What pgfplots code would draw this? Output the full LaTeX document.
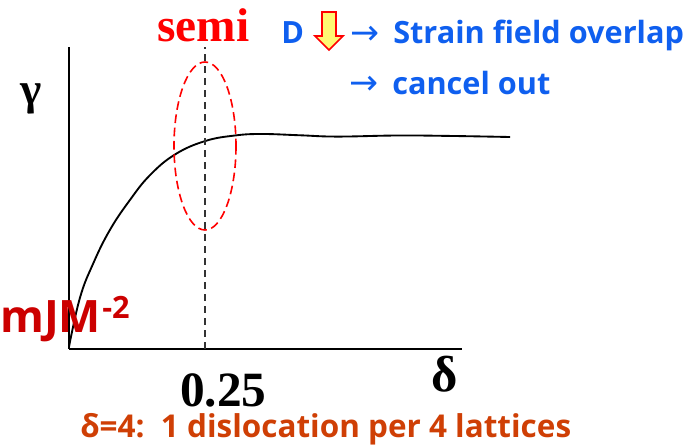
\documentclass[border=0pt]{standalone}
\usepackage{pgfplots}
\pgfplotsset{compat=1.18}
\usepackage{fontspec}
\setmainfont{Open Sans}[BoldFont={Open Sans Bold}]
\newfontfamily\serifb[BoldFont=Liberation Serif Bold]{Liberation Serif}
\newfontfamily\arrowf{DejaVu Sans}
\definecolor{bluetxt}{HTML}{0F5FEF}
\definecolor{redtxt}{HTML}{CC0000}
\definecolor{orangetxt}{HTML}{CF3F05}
\begin{document}
\begin{tikzpicture}
\begin{axis}[
  scale only axis, width=294.75pt, height=226.5pt,
  xmin=0, xmax=0.7224, ymin=0, ymax=1.4047,
  axis lines=left, axis line style={black, line width=2.2pt, -},
  xtick=\empty, ytick=\empty, clip=false,
]
\addplot[black, line width=1.4pt, smooth, tension=0.7] coordinates {
(0,0.01) (0.020,0.237) (0.044,0.395) (0.075,0.553) (0.112,0.693)
(0.149,0.809) (0.195,0.905) (0.25,0.967)
(0.305,0.993) (0.355,1.0) (0.425,0.994) (0.493,0.988)
(0.603,0.993) (0.700,0.991) (0.811,0.986)};
\addplot[black!80, line width=1.1pt, dash pattern=on 5.5pt off 3.5pt] coordinates {(0.25,0) (0.25,1.4047)};
\end{axis}
\begin{scope}[x=.75pt,y=-.75pt,shift={(-69,-349)}]
\path[use as bounding box] (0,0) rectangle (695,445);
\draw[red, line width=1.2pt, dash pattern=on 6.5pt off 3.5pt] (205,146) ellipse [x radius=31, y radius=84];
\draw[red, line width=1.3pt, fill=yellow!55] (322,12) -- (336,12) -- (336,36) -- (343,36) -- (329,50) -- (315,36) -- (322,36) -- cycle;
\node[anchor=base west, inner sep=0, text=red] at (157,42) {\fontsize{35.5}{35.5}\selectfont\serifb\bfseries semi};
\node[anchor=base west, inner sep=0, text=black] at (20,105) {\fontsize{34}{34}\selectfont\serifb\bfseries γ};
\node[anchor=base west, inner sep=0, text=black] at (431,392) {\fontsize{38}{38}\selectfont\serifb\bfseries δ};
\node[anchor=base west, inner sep=0, text=black] at (180,407) {\fontsize{37}{37}\selectfont\serifb\bfseries 0.25};
\node[anchor=base west, inner sep=0, text=bluetxt] at (281,44) {\fontsize{23}{23}\selectfont\bfseries D};
\node[anchor=base west, inner sep=0, text=bluetxt] at (350,45) {\fontsize{26}{26}\selectfont\arrowf →};
\node[anchor=base west, inner sep=0, text=bluetxt] at (393,44) {\fontsize{23}{23}\selectfont\bfseries Strain field overlap};
\node[anchor=base west, inner sep=0, text=bluetxt] at (349,95) {\fontsize{26}{26}\selectfont\arrowf →};
\node[anchor=base west, inner sep=0, text=bluetxt] at (392,95) {\fontsize{23}{23}\selectfont\bfseries cancel out};
\node[anchor=base west, inner sep=0, text=redtxt] at (0,333) {\fontsize{33.5}{33.5}\selectfont\bfseries mJM};
\node[anchor=base west, inner sep=0, text=redtxt] at (102,319) {\fontsize{23}{23}\selectfont\bfseries -2};
\node[anchor=base west, inner sep=0, text=orangetxt] at (80,438) {\fontsize{23.6}{23.6}\selectfont\bfseries δ=4:\ \ 1 dislocation per 4 lattices};
\end{scope}
\end{tikzpicture}
\end{document}
